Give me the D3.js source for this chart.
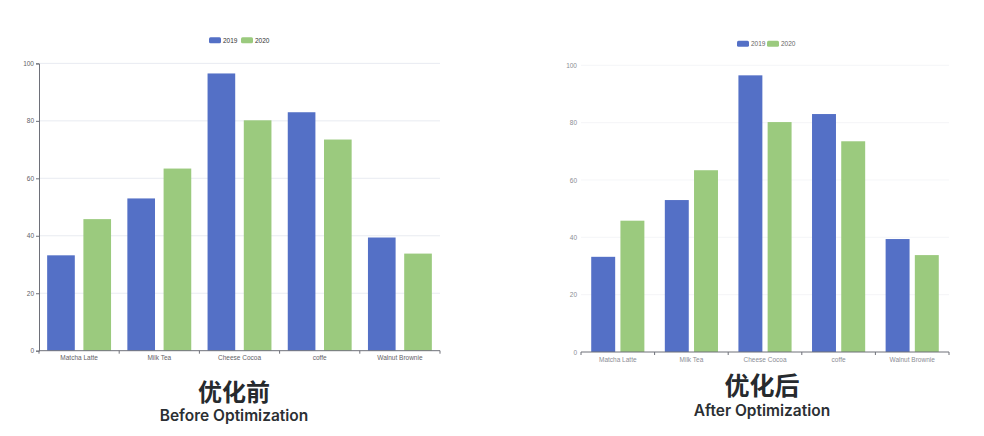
<!DOCTYPE html>
<html>
<head>
<meta charset="utf-8">
<script src="https://cdn.jsdelivr.net/npm/d3@7"></script>
<style>
  body { margin: 0; background: #fff; }
  svg { display: block; }
</style>
</head>
<body>
<svg id="chart" width="984" height="436"></svg>
<script>
// data (same data in both panels)
const categories = ["Matcha Latte", "Milk Tea", "Cheese Cocoa", "coffe", "Walnut Brownie"];
const seriesNames = ["2019", "2020"];
const values2019 = [33.2, 53, 96.5, 83, 39.4];
const values2020 = [45.8, 63.4, 80.2, 73.5, 33.8];
const yTicks = [0, 20, 40, 60, 80, 100];
const titlesCn = ["优化前", "优化后"];
const titlesEn = ["Before Optimization", "After Optimization"];

const colors = ["#5470c6", "#9bca7e"];
const svg = d3.select("#chart");

// panel settings: "before" has y-axis line and darker text, "after" is lighter
const panels = [
  { left: 39, right: 440, top: 63.4, bottom: 350.7, pIn: 0.237, pOut: 0.225,
    yAxisLine: true, grid: "#e3e6ee", label: "#5f6166", legendY: 40.3, legendX: 209, legendStep: 32,
    cx: 234, cnY: 401, enY: 421, cnSize: 24 },
  { left: 581, right: 949, top: 65.3, bottom: 352, pIn: 0.18, pOut: 0.35,
    yAxisLine: false, grid: "#f1f2f5", label: "#8a8d94", legendY: 43.7, legendX: 737, legendStep: 30,
    cx: 762, cnY: 395, enY: 416, cnSize: 25 }
];

panels.forEach((p, pi) => {
  const g = svg.append("g");

  const x = d3.scaleBand().domain(categories).range([p.left, p.right]).padding(0);
  const xs = d3.scaleBand().domain(seriesNames).range([0, x.bandwidth()])
    .paddingInner(p.pIn).paddingOuter(p.pOut);
  const y = d3.scaleLinear().domain([0, 100]).range([p.bottom, p.top]);

  // grid lines
  g.append("g").selectAll("line")
    .data(yTicks.filter(t => t > 0))
    .join("line")
      .attr("x1", p.left).attr("x2", p.right)
      .attr("y1", d => y(d)).attr("y2", d => y(d))
      .attr("stroke", p.grid).attr("stroke-width", 0.8);

  // y axis
  const yAxis = g.append("g")
    .attr("transform", `translate(${p.left},0)`)
    .call(d3.axisLeft(y).tickValues(yTicks).tickSize(p.yAxisLine ? 3 : 0).tickPadding(p.yAxisLine ? 2 : 4));
  yAxis.select(".domain").attr("stroke", p.yAxisLine ? "#6e7079" : "none");
  yAxis.selectAll(".tick line").attr("stroke", "#6e7079");
  yAxis.selectAll("text")
    .attr("fill", p.label).style("font-family", "Liberation Sans, Arial, sans-serif").style("font-size", "6.5px");

  // bars
  const rows = categories.map((c, i) => ({ c, v: [values2019[i], values2020[i]] }));
  g.append("g").selectAll("g")
    .data(rows)
    .join("g")
      .attr("transform", d => `translate(${x(d.c)},0)`)
    .selectAll("rect")
    .data(d => d.v.map((v, k) => ({ s: seriesNames[k], v, k })))
    .join("rect")
      .attr("x", d => xs(d.s))
      .attr("y", d => y(d.v))
      .attr("width", xs.bandwidth())
      .attr("height", d => y(0) - y(d.v))
      .attr("fill", d => colors[d.k]);

  // x axis with ticks on category boundaries
  const xAxis = g.append("g").attr("transform", `translate(0,${p.bottom})`);
  xAxis.append("line")
    .attr("x1", p.left).attr("x2", p.right)
    .attr("stroke", "#6e7079").attr("stroke-width", 1);
  xAxis.selectAll(".bt")
    .data(categories.concat(["end"]))
    .join("line")
      .attr("class", "bt")
      .attr("x1", (d, i) => p.left + i * x.step())
      .attr("x2", (d, i) => p.left + i * x.step())
      .attr("y1", 0).attr("y2", 3)
      .attr("stroke", "#6e7079");
  xAxis.selectAll("text")
    .data(categories)
    .join("text")
      .attr("x", d => x(d) + x.bandwidth() / 2)
      .attr("y", 9.5)
      .attr("text-anchor", "middle")
      .attr("fill", p.label)
      .style("font-family", "Liberation Sans, Arial, sans-serif")
      .style("font-size", "6.5px")
      .text(d => d);

  // legend
  const lg = g.append("g").attr("transform", `translate(${p.legendX},${p.legendY})`);
  seriesNames.forEach((s, k) => {
    const ox = k * p.legendStep;
    lg.append("rect")
      .attr("x", ox).attr("y", -3).attr("width", 12).attr("height", 6)
      .attr("rx", 1.5).attr("fill", colors[k]);
    lg.append("text")
      .attr("x", ox + 14).attr("y", 2.4)
      .attr("fill", pi === 0 ? "#333" : "#666")
      .style("font-family", "Liberation Sans, Arial, sans-serif")
      .style("font-size", "6.5px")
      .text(s);
  });

  // captions
  g.append("text")
    .attr("x", p.cx).attr("y", p.cnY)
    .attr("text-anchor", "middle")
    .attr("fill", "#262a2e")
    .style("font-family", "Noto Sans CJK SC, sans-serif")
    .style("font-weight", 700)
    .style("font-size", p.cnSize + "px")
    .text(titlesCn[pi]);
  g.append("text")
    .attr("x", p.cx).attr("y", p.enY)
    .attr("text-anchor", "middle")
    .attr("fill", "#2b2f33")
    .style("font-family", "Inter, Noto Sans, sans-serif")
    .style("font-weight", 600)
    .style("font-size", "15.5px")
    .text(titlesEn[pi]);
});
</script>
</body>
</html>
